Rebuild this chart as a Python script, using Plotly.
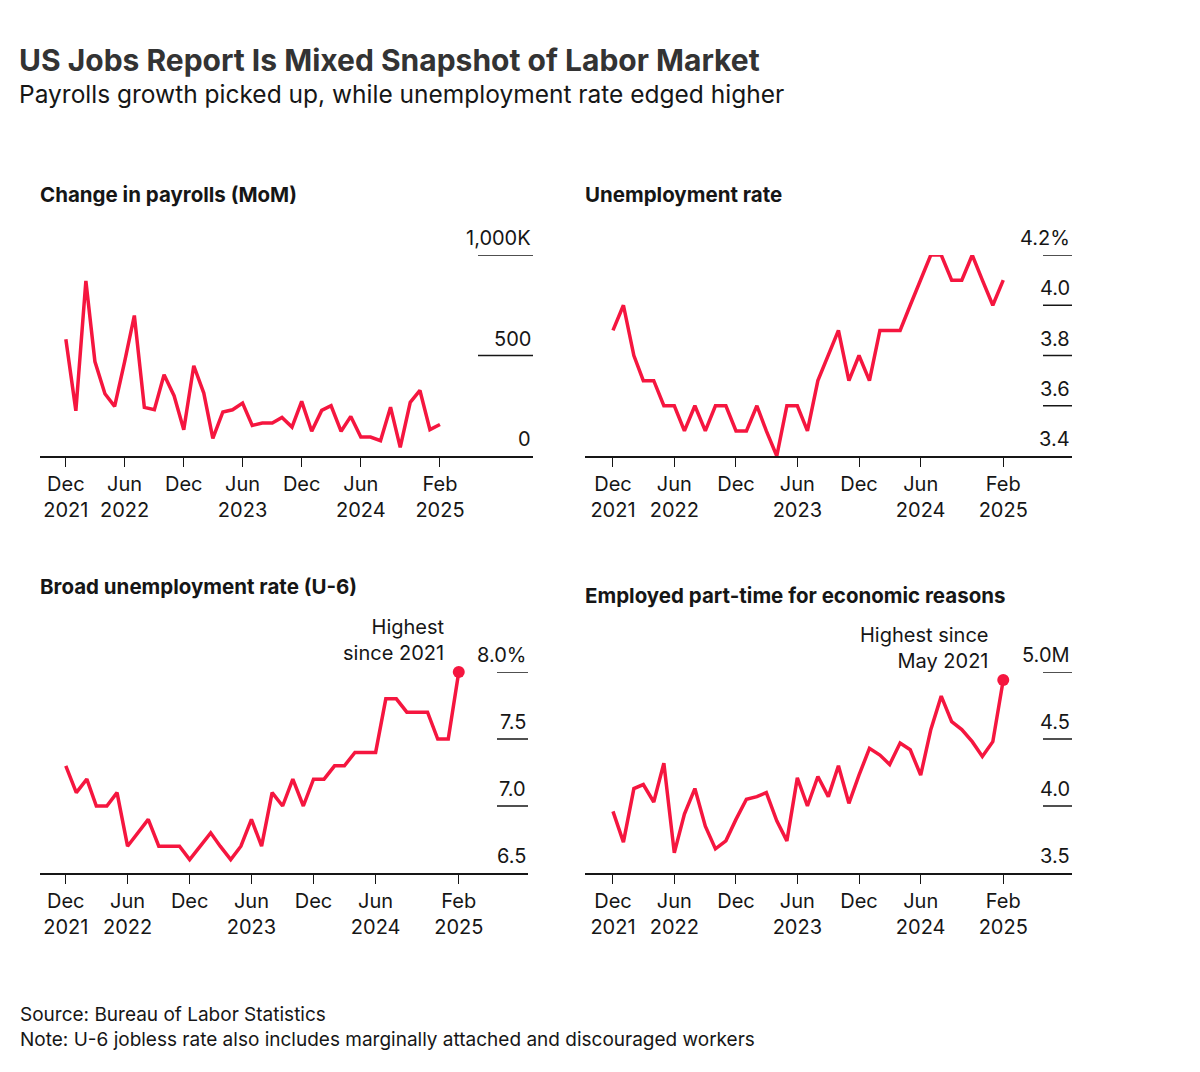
import plotly.graph_objects as go
import pandas as pd

OFF = 8  # page body margin
W, H = 1200 - 2 * OFF, 1072 - 2 * OFF
dates = pd.date_range("2021-12-01", periods=39, freq="MS")

payrolls = [581, 225, 871, 470, 310, 247, 470, 699, 242, 230, 404, 300, 131, 449, 313, 88,
            219, 230, 263, 152, 164, 164, 192, 144, 272, 123, 227, 250, 123, 197, 94, 94,
            76, 243, 43, 267, 326, 131, 157]
unemp = [3.9, 4.0, 3.8, 3.7, 3.7, 3.6, 3.6, 3.5, 3.6, 3.5, 3.6, 3.6, 3.5, 3.5, 3.6, 3.5,
         3.4, 3.6, 3.6, 3.5, 3.7, 3.8, 3.9, 3.7, 3.8, 3.7, 3.9, 3.9, 3.9, 4.0, 4.1, 4.2,
         4.2, 4.1, 4.1, 4.2, 4.1, 4.0, 4.1]
u6 = [7.3, 7.1, 7.2, 7.0, 7.0, 7.1, 6.7, 6.8, 6.9, 6.7, 6.7, 6.7, 6.6, 6.7, 6.8, 6.7,
      6.6, 6.7, 6.9, 6.7, 7.1, 7.0, 7.2, 7.0, 7.2, 7.2, 7.3, 7.3, 7.4, 7.4, 7.4, 7.8,
      7.8, 7.7, 7.7, 7.7, 7.5, 7.5, 8.0]
parttime = [3.96, 3.73, 4.13, 4.16, 4.03, 4.32, 3.65, 3.94, 4.13, 3.85, 3.68, 3.74, 3.90,
            4.05, 4.07, 4.10, 3.89, 3.74, 4.21, 4.00, 4.22, 4.07, 4.30, 4.02, 4.23, 4.43,
            4.38, 4.31, 4.47, 4.42, 4.23, 4.57, 4.82, 4.63, 4.57, 4.48, 4.37, 4.48, 4.94]

tick_dates = ["2021-12-01", "2022-06-01", "2022-12-01", "2023-06-01", "2023-12-01", "2024-06-01", "2025-02-01"]
tick_text = ["Dec<br>2021", "Jun<br>2022", "Dec", "Jun<br>2023", "Dec", "Jun<br>2024", "Feb<br>2025"]

RED = "#F5163F"
INK = "#161616"
FONT = "Inter"


def px(x):
    return (x - OFF) / W


def py(y):
    return 1 - (y - OFF) / H


d0 = pd.Timestamp("2021-12-01"); d1 = pd.Timestamp("2025-02-01")
panels = [
    dict(title="Change in payrolls (MoM)", y=payrolls, x0=40, x1=533, ytop=255, ybot=456,
         rng=[0, 1000], ticks=[1000, 500, 0], labels=["1,000K", "500", "0"], g0=478,
         pre=80, post=288, ty=194, dot=False),
    dict(title="Unemployment rate", y=unemp, x0=585, x1=1072, ytop=255, ybot=456,
         rng=[3.4, 4.2], ticks=[4.2, 4.0, 3.8, 3.6, 3.4], labels=["4.2%", "4.0", "3.8", "3.6", "3.4"],
         g0=1043, pre=83, post=204, ty=194, dot=False),
    dict(title="Broad unemployment rate (U-6)", y=u6, x0=40, x1=528, ytop=672, ybot=873,
         rng=[6.5, 8.0], ticks=[8.0, 7.5, 7.0, 6.5], labels=["8.0%", "7.5", "7.0", "6.5"],
         g0=497, pre=76, post=204, ty=586, dot=True, note="Highest<br>since 2021", nx=447, ny=640),
    dict(title="Employed part-time for economic reasons", y=parttime, x0=585, x1=1072, ytop=672, ybot=873,
         rng=[3.5, 5.0], ticks=[5.0, 4.5, 4.0, 3.5], labels=["5.0M", "4.5", "4.0", "3.5"],
         g0=1043, pre=83, post=204, ty=595, dot=True, note="Highest since<br>May 2021", nx=991, ny=648),
]

fig = go.Figure()
annotations = []
shapes = []
for i, p in enumerate(panels, start=1):
    xa = "x" if i == 1 else f"x{i}"
    ya = "y" if i == 1 else f"y{i}"
    fig.add_trace(go.Scatter(x=dates, y=p["y"], mode="lines", line=dict(color=RED, width=3.5),
                             xaxis=xa, yaxis=ya, showlegend=False, hoverinfo="skip", cliponaxis=False))
    if p["dot"]:
        fig.add_trace(go.Scatter(x=[dates[-1]], y=[p["y"][-1]], mode="markers",
                                 marker=dict(color=RED, size=12), xaxis=xa, yaxis=ya,
                                 showlegend=False, hoverinfo="skip", cliponaxis=False))
        annotations.append(dict(text=p["note"], xref="paper", yref="paper", x=px(p["nx"]),
                                y=py(p["ny"]), xanchor="right", yanchor="middle", align="right",
                                showarrow=False, font=dict(family=FONT, size=20, color=INK)))
    suffix = "" if i == 1 else str(i)
    fig.layout["xaxis" + suffix] = dict(
        domain=[px(p["x0"]), px(p["x1"])], anchor=ya,
        range=[d0 - pd.Timedelta(days=p["pre"]), d1 + pd.Timedelta(days=p["post"])],
        tickvals=tick_dates, ticktext=tick_text, ticks="outside", ticklen=9, tickwidth=1.3,
        tickcolor=INK, showline=True, linecolor=INK, linewidth=1.5, showgrid=False,
        zeroline=False, tickfont=dict(family=FONT, size=20, color=INK), fixedrange=True)
    fig.layout["yaxis" + suffix] = dict(
        domain=[py(p["ybot"]), py(p["ytop"])], anchor=xa, range=p["rng"],
        showticklabels=False, showgrid=False, zeroline=False, showline=False, fixedrange=True)
    for v, lab in zip(p["ticks"], p["labels"]):
        annotations.append(dict(text=lab, xref="paper", yref=ya, x=px(p["x1"]), y=v,
                                xanchor="right", yanchor="bottom", yshift=3, showarrow=False,
                                font=dict(family=FONT, size=20, color=INK)))
        if v != p["rng"][0]:
            shapes.append(dict(type="line", xref="paper", yref=ya, x0=px(p["g0"]), x1=px(p["x1"]),
                               y0=v, y1=v, line=dict(color=INK, width=1.5)))
    annotations.append(dict(text="<b>" + p["title"] + "</b>", xref="paper", yref="paper",
                            x=px(p["x0"] - 2), y=py(p["ty"]), xanchor="left", yanchor="middle",
                            showarrow=False, font=dict(family=FONT, size=20.5, color=INK)))

annotations += [
    dict(text="<b>US Jobs Report Is Mixed Snapshot of Labor Market</b>", xref="paper", yref="paper",
         x=px(17), y=py(60), xanchor="left", yanchor="middle", showarrow=False,
         font=dict(family=FONT, size=30, color="#333333")),
    dict(text="Payrolls growth picked up, while unemployment rate edged higher", xref="paper", yref="paper",
         x=px(17), y=py(94), xanchor="left", yanchor="middle", showarrow=False,
         font=dict(family=FONT, size=24.5, color=INK)),
    dict(text="Source: Bureau of Labor Statistics<br>Note: U-6 jobless rate also includes marginally attached and discouraged workers",
         xref="paper", yref="paper", x=px(18), y=py(1027), xanchor="left", yanchor="middle",
         align="left", showarrow=False, font=dict(family=FONT, size=19, color=INK)),
]

fig.update_layout(width=W, height=H, margin=dict(l=0, r=0, t=0, b=0), paper_bgcolor="white",
                  plot_bgcolor="white", annotations=annotations, shapes=shapes)
fig.write_html("out.html")
